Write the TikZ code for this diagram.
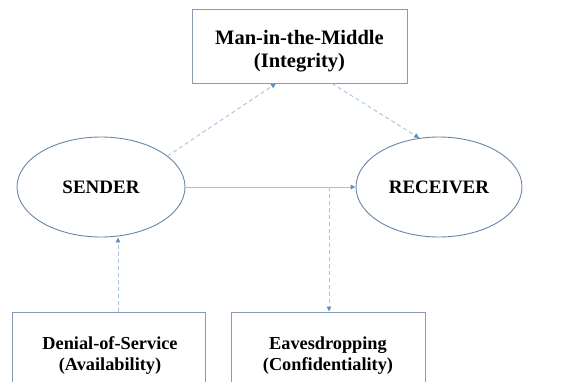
\documentclass[tikz,border=0pt]{standalone}
\usepackage{fontspec}
\setmainfont{Liberation Serif}
\usetikzlibrary{arrows.meta,shapes.geometric}
\definecolor{boxline}{HTML}{8A9CB4}
\definecolor{ellline}{HTML}{6A86A6}
\definecolor{linkline}{HTML}{A9C3DE}
\definecolor{tipcol}{HTML}{5B8FC9}
\tikzset{
  lbl/.style={font=\bfseries\fontsize{18.3}{21}\selectfont, align=center, inner sep=0pt},
  toplbl/.style={lbl, font=\bfseries\fontsize{20.5}{23}\selectfont},
  attack/.style={draw=boxline, line width=0.9pt, rectangle, inner sep=0pt},
  party/.style={lbl, font=\bfseries\fontsize{19}{21}\selectfont, draw=ellline, line width=0.9pt, ellipse, inner sep=0pt},
  link/.style={draw=linkline, line width=0.9pt, -{Triangle[length=5pt,width=4.5pt,color=tipcol]}},
  dlink/.style={link, dash pattern=on 4pt off 3pt},
}
\begin{document}
\begin{tikzpicture}[x=1pt,y=-1pt]
\useasboundingbox (0,0) rectangle (581,381);
\fill[white] (0,0) rectangle (581,381);
\node[attack, minimum width=215pt, minimum height=74pt] (mitm) at (299.5,46) {};
\node[toplbl] (mitmtxt) at (299.5,51) {Man-in-the-Middle\\(Integrity)};
\node[party, minimum width=168pt, minimum height=100pt] (snd) at (101,187) {SENDER};
\node[party, minimum width=166pt, minimum height=100pt] (rcv) at (439,187) {RECEIVER};
\node[attack, minimum width=193pt, minimum height=88pt] (dos) at (108.5,356) {};
\node[lbl] (dostxt) at (110,356) {Denial-of-Service\\(Availability)};
\node[attack, minimum width=194pt, minimum height=88pt] (eav) at (328,356) {};
\node[lbl] (eavtxt) at (328,356) {Eavesdropping\\(Confidentiality)};
\coordinate (tap) at (329,187);
\draw[link] (snd.east) -- (rcv.west);
\draw[dlink] (tap) -- (eav.north -| tap);
\draw[dlink] (dos.north -| 118,0) -- (snd.south -| 118,0);
\draw[dlink] (snd.25) -- (mitm.south -| 276,0);
\draw[dlink] (mitm.south -| 332,0) -- (rcv.112);
\end{tikzpicture}
\end{document}
